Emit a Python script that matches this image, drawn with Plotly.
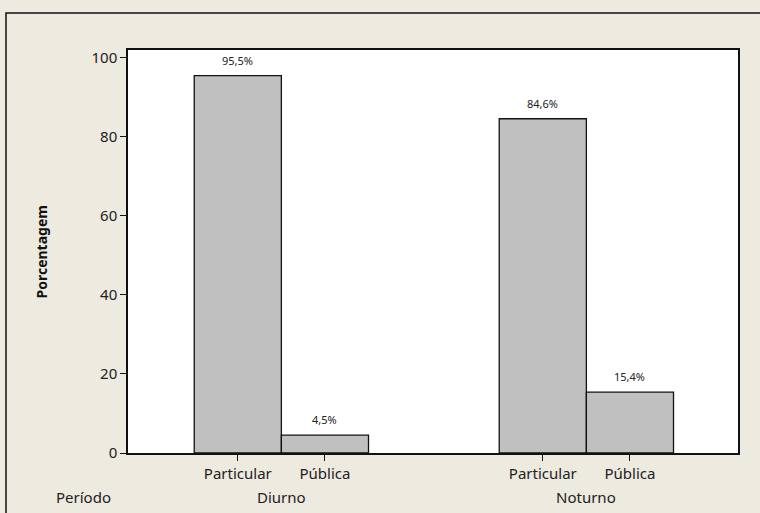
import plotly.graph_objects as go

groups = ["Diurno", "Noturno"]
types = ["Particular", "Pública"]
values = [[95.5, 4.5], [84.6, 15.4]]
labels = [["95,5%", "4,5%"], ["84,6%", "15,4%"]]
yticks = [0, 20, 40, 60, 80, 100]

GAP = 3.5
xs, ys, ts, tick_text = [], [], [], []
for g, grp in enumerate(groups):
    for i, t in enumerate(types):
        xs.append(g * GAP + i)
        ys.append(values[g][i])
        ts.append(labels[g][i])
        tick_text.append(t)

FONT = "Noto Sans"
fig = go.Figure()
fig.add_trace(go.Bar(
    x=xs, y=ys, width=1.0,
    marker=dict(color="#C0C0C0", line=dict(color="#111", width=1.3)),
    showlegend=False,
))
for x, y, t in zip(xs, ys, ts):
    fig.add_annotation(x=x, y=y, xref="x", yref="y", text=t, showarrow=False,
                       yanchor="bottom", yshift=6,
                       font=dict(size=11, family=FONT, color="#222"))

fig.update_layout(
    width=760, height=513,
    margin=dict(l=128, r=22, t=50, b=60),
    paper_bgcolor="#EDEAE0", plot_bgcolor="white",
    font=dict(family=FONT, color="#222"),
    xaxis=dict(range=[-1.26, 5.74], tickvals=xs, ticktext=tick_text,
               showgrid=False, zeroline=False, showline=True, mirror=True,
               linecolor="#111", linewidth=1.5, ticks="outside", ticklen=6,
               tickcolor="#111", tickfont=dict(size=15, family=FONT, color="#222")),
    yaxis=dict(range=[0, 102], tickvals=yticks, showgrid=False, zeroline=False,
               showline=True, mirror=True, linecolor="#111", linewidth=1.5,
               ticks="outside", ticklen=6, tickcolor="#111",
               tickfont=dict(size=15, family=FONT, color="#222")),
)

fig.add_annotation(x=-0.141, xref="paper", y=0.5, yref="paper", text="<b>Porcentagem</b>",
                   textangle=-90, showarrow=False, xanchor="center", yanchor="middle",
                   font=dict(size=14, family=FONT, color="#111"))

for g, grp in enumerate(groups):
    fig.add_annotation(x=g * GAP + 0.5, xref="x", y=-0.11, yref="paper", text=grp,
                       showarrow=False, yanchor="middle",
                       font=dict(size=15, family=FONT, color="#222"))
fig.add_annotation(x=-0.073, xref="paper", y=-0.11, yref="paper", text="Período",
                   showarrow=False, xanchor="center", yanchor="middle",
                   font=dict(size=15, family=FONT, color="#222"))

# outer frame
fig.add_shape(type="rect", xref="paper", yref="paper",
              x0=-0.2, x1=1.2, y0=-0.4, y1=1.0 + 37 / 403,
              line=dict(color="#111", width=1.5), fillcolor="rgba(0,0,0,0)", layer="below")

fig.write_html("out.html")
